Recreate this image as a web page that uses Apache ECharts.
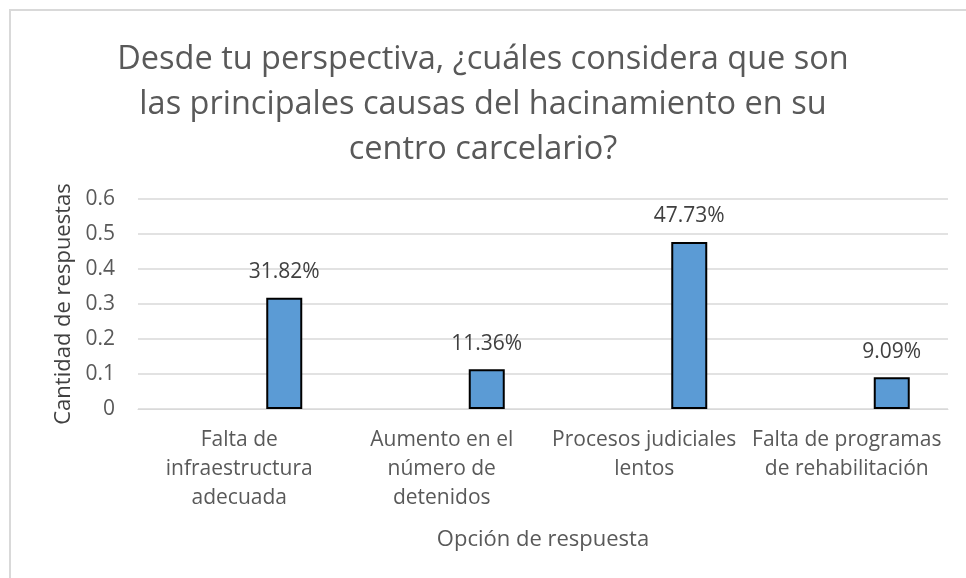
<!DOCTYPE html>
<html>
<head>
<meta charset="utf-8">
<script src="https://cdn.jsdelivr.net/npm/echarts@6/dist/echarts.min.js"></script>
<style>
  html, body { margin: 0; padding: 0; background: #fff; }
  #chart { width: 966px; height: 578px; }
</style>
</head>
<body>
<div id="chart"></div>
<script>
var categories = [
    "Falta de\ninfraestructura\nadecuada",
    "Aumento en el\nnúmero de\ndetenidos",
    "Procesos judiciales\nlentos",
    "Falta de programas\nde rehabilitación"
];
var values = [0.3182, 0.1136, 0.4773, 0.0909];
var emptyValues = [null, null, null, null];

var titleText = "Desde tu perspectiva, ¿cuáles considera que son\nlas principales causas del hacinamiento en su\ncentro carcelario?";
var font = "'Open Sans', 'Noto Sans', sans-serif";

var myChart = echarts.init(document.getElementById("chart"));
var option = {
    backgroundColor: "#fff",
    animation: false,
    title: {
        text: titleText,
        left: "center",
        top: 32,
        textStyle: {
            color: "#595959",
            fontFamily: font,
            fontSize: 32.5,
            fontWeight: "normal",
            lineHeight: 45
        }
    },
    graphic: [{
        type: "rect",
        shape: { x: 10, y: 10, width: 1000, height: 1000 },
        style: { fill: "none", stroke: "#d9d9d9", lineWidth: 2 }
    }],
    grid: { left: 138, right: 18, top: 199, bottom: 169 },
    xAxis: {
        type: "category",
        data: categories,
        name: "Opción de respuesta",
        nameLocation: "middle",
        nameGap: 120,
        nameTextStyle: { color: "#595959", fontFamily: font, fontSize: 22 },
        axisLine: { lineStyle: { color: "#d9d9d9" } },
        axisTick: { show: false },
        axisLabel: {
            color: "#595959",
            fontFamily: font,
            fontSize: 21,
            lineHeight: 29,
            margin: 17,
            interval: 0
        }
    },
    yAxis: {
        type: "value",
        min: 0,
        max: 0.6,
        interval: 0.1,
        name: "Cantidad de respuestas",
        nameLocation: "middle",
        nameGap: 58,
        nameTextStyle: { color: "#404040", fontFamily: font, fontSize: 22 },
        axisLine: { show: false },
        axisTick: { show: false },
        splitLine: { lineStyle: { color: "#d9d9d9", width: 1.5 } },
        axisLabel: {
            color: "#595959",
            fontFamily: font,
            fontSize: 21,
            margin: 23
        }
    },
    series: [
        {
            type: "bar",
            data: emptyValues,
            barWidth: 36,
            barGap: "150%"
        },
        {
            type: "bar",
            data: values,
            barWidth: 36,
            itemStyle: { color: "#5b9bd5", borderColor: "#000", borderWidth: 2 },
            label: {
                show: true,
                position: "top",
                distance: 15,
                color: "#404040",
                fontFamily: font,
                fontSize: 21,
                formatter: function (p) { return (p.value * 100).toFixed(2) + "%"; }
            }
        }
    ]
};
myChart.setOption(option);
window.onresize = myChart.resize;
</script>
</body>
</html>
